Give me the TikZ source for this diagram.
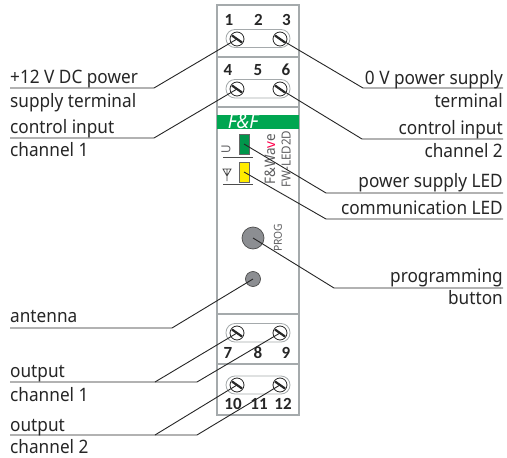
\documentclass[tikz,border=0pt]{standalone}
\usepackage{fontspec}
\setmainfont{Noto Sans}[FakeStretch=0.93]
\newfontfamily\digitfont{Carlito}
\definecolor{bodyline}{RGB}{165,170,172}
\definecolor{ffgreen}{RGB}{0,166,81}
\definecolor{ledgreen}{RGB}{0,150,75}
\definecolor{ledyellow}{RGB}{255,236,0}
\definecolor{knob}{RGB}{140,142,146}
\definecolor{printed}{RGB}{95,95,97}
\tikzset{
  x=1pt,y=-1pt,
  housing/.style={draw=bodyline,line width=1.1pt},
  capsule/.style={draw=bodyline,line width=.8pt,fill=white,rounded corners=9pt},
  screwhead/.style={circle,draw=black!85,line width=.8pt,fill=white,minimum size=14pt,inner sep=0pt},
  lead/.style={draw=black!85,line width=.9pt},
  lbl/.style={font=\fontsize{18.5}{20}\selectfont,inner sep=0pt,text=black!85},
  terminal/.style={font=\digitfont\bfseries\fontsize{17}{17}\selectfont,inner sep=0pt,text=black!85},
  led/.style={draw=black!60,line width=.8pt,minimum width=10pt,minimum height=20pt,inner sep=0pt},
  printedtext/.style={font=\fontsize{11.5}{12}\selectfont,inner sep=0pt,text=printed,rotate=90},
}
\begin{document}
\begin{tikzpicture}
\useasboundingbox (0,0) rectangle (507,458);
\fill[white] (0,0) rectangle (507,458);
% housing
\draw[housing] (217,5) rectangle (299,415);
\draw[housing] (217,57) -- (299,57);
\draw[housing] (217,107) -- (299,107);
\draw[housing] (217,314) -- (299,314);
\draw[housing] (217,364) -- (299,364);
% green band
\fill[ffgreen] (217,114.5) rectangle (299,129);
\node[inner sep=0pt,text=white,font=\bfseries\itshape\fontsize{20}{20}\selectfont] (logo) at (243,121.8) {F\&F};
% capsules
\draw[capsule] (226,29.5) rectangle (290,47.5);
\draw[capsule] (226,79.5) rectangle (290,98);
\draw[capsule] (226,323.5) rectangle (290,342);
\draw[capsule] (226,376) rectangle (290,394);
% terminal numbers
\node[terminal] (n1) at (229,20) {1}; \node[terminal] (n2) at (258.5,20) {2}; \node[terminal] (n3) at (286.5,20) {3};
\node[terminal] (n4) at (228,70) {4}; \node[terminal] (n5) at (258,70) {5}; \node[terminal] (n6) at (286,70) {6};
\node[terminal] (n7) at (228,353) {7}; \node[terminal] (n8) at (258,353) {8}; \node[terminal] (n9) at (286,353) {9};
\node[terminal] (n10) at (233,404) {10}; \node[terminal] (n11) at (259,404) {11}; \node[terminal] (n12) at (283,404) {12};
% screws
\foreach \nm/\px/\py in {sa/237/39,sb/280/39,sc/237/89,sd/280/89,se/237/333,sf/280/333,sg/237/385,sh/280/385}{
  \node[screwhead] (\nm) at (\px,\py) {};
  \draw[black!85,line width=2.2pt] ([shift={(-5,-3.5)}]\nm.center) -- ([shift={(5,3.5)}]\nm.center);
}
% LEDs and printed marks
\node[led,fill=ledgreen] (ledg) at (244,144) {};
\node[led,fill=ledyellow] (ledy) at (244,172) {};
\node[printedtext,font=\fontsize{12.5}{13}\selectfont] (u) at (226,149.5) {U};
\draw[black!70,line width=.8pt] (223,157) -- (253,157);
\draw[black!70,line width=.8pt] (223,184) -- (253,184);
\node[inner sep=0pt] (ant) at (227,175) {\tikz[x=1pt,y=-1pt]{\draw[black!75,line width=.8pt] (-4,-6)--(4,-6)--(0,1)--cycle (0,-6)--(0,6);}};
\node[printedtext,font=\fontsize{14.5}{15}\selectfont] (fw) at (270,159) {F\&Wa\textcolor{red!70!magenta}{v}e};
\node[printedtext,font=\fontsize{12.5}{13}\selectfont] (model) at (286,159) {FW-LED2D};
\node[printedtext,font=\fontsize{11}{11}\selectfont] (prog) at (278,238) {PROG};
% buttons
\node[circle,draw=black!70,line width=.7pt,fill=knob,minimum size=22pt,inner sep=0pt] (btn) at (253,238) {};
\node[circle,draw=black!70,line width=.7pt,fill=knob,minimum size=15pt,inner sep=0pt] (antn) at (253,279) {};
% labels
\node[lbl,anchor=base west] (l1) at (10,83) {+12 V DC power};
\node[lbl,anchor=base west] (l2) at (10,107) {supply terminal};
\node[lbl,anchor=base west] (l3) at (10,133) {control input};
\node[lbl,anchor=base west] (l4) at (10,156) {channel 1};
\node[lbl,anchor=base west] (l5) at (10,322) {antenna};
\node[lbl,anchor=base west] (l6) at (10,377) {output};
\node[lbl,anchor=base west] (l7) at (10,401) {channel 1};
\node[lbl,anchor=base west] (l8) at (10,431) {output};
\node[lbl,anchor=base west] (l9) at (10,453) {channel 2};
\node[lbl,anchor=base east] (r1) at (503,84) {0 V power supply};
\node[lbl,anchor=base east] (r2) at (503,107) {terminal};
\node[lbl,anchor=base east] (r3) at (503,134) {control input};
\node[lbl,anchor=base east] (r4) at (503,157) {channel 2};
\node[lbl,anchor=base east] (r5) at (503,187) {power supply LED};
\node[lbl,anchor=base east] (r6) at (503,214) {communication LED};
\node[lbl,anchor=base east] (r7) at (503,282) {programming};
\node[lbl,anchor=base east] (r8) at (503,304) {button};
% leader elbows and free ends
\coordinate (ea) at (154,88);  \coordinate (fa) at (10,88);
\coordinate (eb) at (363,88);  \coordinate (fb) at (503,88);
\coordinate (ec) at (154,138); \coordinate (fc) at (10,138);
\coordinate (ed) at (362,139); \coordinate (fd) at (503,139);
\coordinate (ee) at (326,193); \coordinate (fe) at (503,193);
\coordinate (eg) at (326,219); \coordinate (fg) at (503,219);
\coordinate (eh) at (334,288); \coordinate (fh) at (503,288);
\coordinate (ei) at (172,328); \coordinate (fi) at (10,328);
\coordinate (ej) at (155,382); \coordinate (ek) at (197,382); \coordinate (fj) at (10,382);
\coordinate (el) at (155,435); \coordinate (em) at (197,435); \coordinate (fl) at (10,435);
\draw[lead] (fa) -- (ea) -- (sa.center);
\draw[lead] (fb) -- (eb) -- (sb.center);
\draw[lead] (fc) -- (ec) -- (sc.center);
\draw[lead] (fd) -- (ed) -- (sd.center);
\draw[lead] (fe) -- (ee) -- (ledg.center);
\draw[lead] (fg) -- (eg) -- (ledy.center);
\draw[lead] (fh) -- (eh) -- (btn.center);
\draw[lead] (fi) -- (ei) -- (antn.center);
\draw[lead] (fj) -- (ek) -- (sf.center);
\draw[lead] (ej) -- (se.center);
\draw[lead] (fl) -- (em) -- (sh.center);
\draw[lead] (el) -- (sg.center);
\end{tikzpicture}
\end{document}
